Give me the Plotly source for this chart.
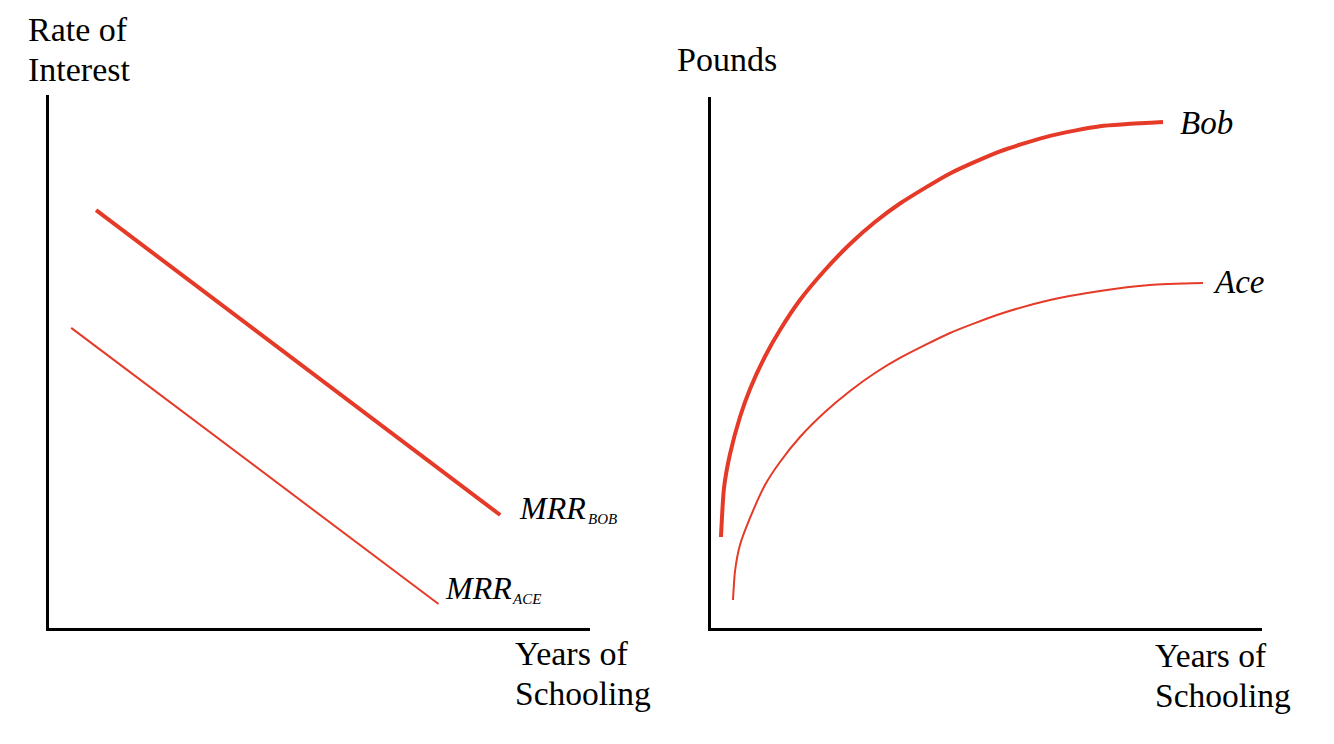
import plotly.graph_objects as go

# page has an 8px body margin; lay out in reference pixels and shift
OFF = 8
W, H = 1334 - OFF, 744 - OFF

# ---- data (axis units 0..10) ----
mrr_bob_x = [0.87, 8.34]
mrr_bob_y = [7.84, 2.12]
mrr_ace_x = [0.41, 7.20]
mrr_ace_y = [5.63, 0.45]

bob_x = [0.181, 0.236, 0.345, 0.526, 0.708, 0.980, 1.252, 1.615, 2.069, 2.523,
         2.976, 3.430, 4.338, 5.245, 6.152, 7.060, 8.203]
bob_y = [1.714, 2.637, 3.277, 3.974, 4.501, 5.113, 5.612, 6.177, 6.742, 7.232,
         7.646, 7.995, 8.561, 8.977, 9.269, 9.450, 9.529]
ace_x = [0.399, 0.436, 0.526, 0.708, 0.980, 1.252, 1.615, 2.069, 2.523, 2.976,
         3.430, 4.338, 5.245, 6.152, 7.060, 7.967, 8.929]
ace_y = [0.527, 1.073, 1.563, 2.072, 2.693, 3.126, 3.597, 4.068, 4.463, 4.802,
         5.085, 5.556, 5.913, 6.177, 6.347, 6.460, 6.497]

RED = "#E53A28"
FONT = "Liberation Serif, Times New Roman, serif"

def px(x):
    return (x - OFF) / W

def py(y):
    return 1 - (y - OFF) / H

fig = go.Figure()
fig.add_trace(go.Scatter(x=mrr_bob_x, y=mrr_bob_y, mode="lines",
                         line=dict(color=RED, width=4), xaxis="x", yaxis="y"))
fig.add_trace(go.Scatter(x=mrr_ace_x, y=mrr_ace_y, mode="lines",
                         line=dict(color=RED, width=2), xaxis="x", yaxis="y"))
fig.add_trace(go.Scatter(x=bob_x, y=bob_y, mode="lines",
                         line=dict(color=RED, width=4, shape="spline", smoothing=0.6),
                         xaxis="x2", yaxis="y2"))
fig.add_trace(go.Scatter(x=ace_x, y=ace_y, mode="lines",
                         line=dict(color=RED, width=2, shape="spline", smoothing=0.6),
                         xaxis="x2", yaxis="y2"))

ax_common = dict(showgrid=False, zeroline=False, showticklabels=False, ticks="",
                 showline=True, linecolor="black", linewidth=2.5, range=[0, 10],
                 fixedrange=True)

fig.update_layout(
    width=W, height=H, showlegend=False,
    margin=dict(l=0, r=0, t=0, b=0),
    paper_bgcolor="white", plot_bgcolor="white",
    xaxis=dict(domain=[px(49), px(590)], anchor="y", **ax_common),
    yaxis=dict(domain=[py(628), py(95)], anchor="x", **ax_common),
    xaxis2=dict(domain=[px(711), px(1262)], anchor="y2", **ax_common),
    yaxis2=dict(domain=[py(628), py(97)], anchor="x2", **ax_common),
)

def ann(text, x, y, size, xanchor="left", yanchor="middle"):
    fig.add_annotation(text=text, x=px(x), y=py(y), xref="paper", yref="paper",
                       xanchor=xanchor, yanchor=yanchor, align="left", showarrow=False,
                       font=dict(family=FONT, size=size, color="black"))

ann("Rate of", 26, 30, 34)
ann("Interest", 26, 70, 34)
ann("Pounds", 675, 60, 34)
ann("Years of", 513, 653, 34)
ann("Schooling", 513, 693, 33.5)
ann("Years of", 1153, 655, 33.5)
ann("Schooling", 1153, 695, 33.5)
ann("<i>MRR</i>", 517, 508, 32)
ann("<i>BOB</i>", 586, 519, 15)
ann("<i>MRR</i>", 443, 588, 32)
ann("<i>ACE</i>", 510, 599, 15)
ann("<i>Bob</i>", 1178, 123, 33)
ann("<i>Ace</i>", 1211, 282, 33)

fig.write_html("out.html")
